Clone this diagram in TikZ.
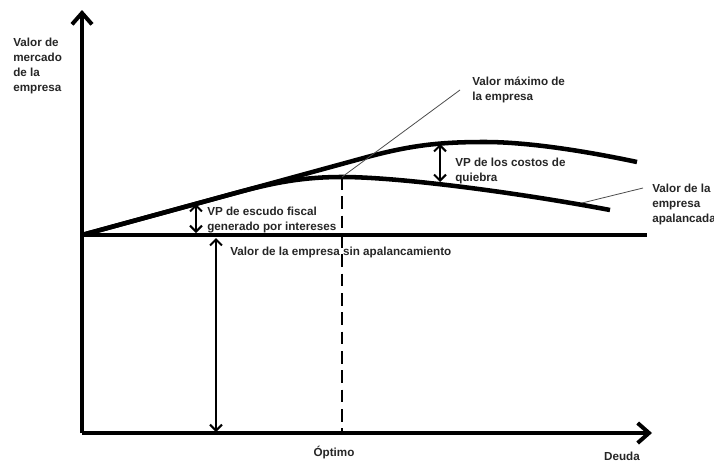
\documentclass[tikz,border=0pt]{standalone}
\usepackage{fontspec}
\setmainfont{Liberation Sans}
\usetikzlibrary{arrows.meta}
\begin{document}
\begin{tikzpicture}[x=0.75pt,y=-0.75pt,
  eje/.style={line width=3pt,-{Straight Barb[length=8.5pt,width=15pt]}},
  curva/.style={line width=3.4pt},
  flecha/.style={line width=1.5pt,{Straight Barb[length=4.5pt,width=9pt]}-{Straight Barb[length=4.5pt,width=9pt]}},
  guia/.style={line width=0.6pt,black!70},
  etiqueta/.style={anchor=north west,inner sep=0pt,align=left,text=black!85,
    font=\fontsize{8.75}{11.25}\selectfont\bfseries}]
  \useasboundingbox (0,0) rectangle (714,464);
  \coordinate (origen) at (82,433);
  \coordinate (ytop) at (82,10);
  \coordinate (xfin) at (652,433);
  \coordinate (base) at (82,235);
  \coordinate (basefin) at (647,235);
  \coordinate (optimo) at (342,177);
  \coordinate (optimobaj) at (342,433);
  % ejes
  \draw[eje] (origen) -- (ytop);
  \draw[eje] (origen) -- (xfin);
  % curvas
  \draw[line width=3pt] (base) -- (basefin);
  \draw[curva] (base) -- (360,159) .. controls (410,145) and (440,142) .. (485,142)
    .. controls (530,142) and (590,152) .. (637,162);
  \draw[curva] (base) -- (230,194.5) .. controls (270,183.5) and (300,177) .. (optimo)
    .. controls (400,177) and (520,193) .. (610,210);
  \draw[line width=2.2pt,dash pattern=on 9.5pt off 5pt] (optimo) -- (optimobaj);
  % flechas
  \coordinate (escA) at (196,204);
  \coordinate (escB) at (196,233);
  \coordinate (quiA) at (440,144);
  \coordinate (quiB) at (440,182);
  \coordinate (sinA) at (216,238);
  \coordinate (sinB) at (216,432);
  \draw[flecha] (escA) -- (escB);
  \draw[flecha] (quiA) -- (quiB);
  \draw[flecha] (sinA) -- (sinB);
  % guias
  \coordinate (maxlab) at (460,90);
  \coordinate (apapt) at (582,203);
  \coordinate (apalab) at (643,188);
  \draw[guia] (optimo) -- (maxlab);
  \draw[guia] (apapt) -- (apalab);
  % textos
  \node[etiqueta] (ylab) at (13,38) {Valor de\\mercado\\de la\\empresa};
  \node[etiqueta] (maxtxt) at (472,77) {Valor máximo de\\la empresa};
  \node[etiqueta] (quitxt) at (455,158) {VP de los costos de\\quiebra};
  \node[etiqueta] (apatxt) at (652,184) {Valor de la\\empresa\\apalancada};
  \node[etiqueta] (esctxt) at (207,207) {VP de escudo fiscal\\generado por intereses};
  \node[etiqueta] (sintxt) at (230,247) {Valor de la empresa sin apalancamiento};
  \node[etiqueta,anchor=base] (optxt) at (334,456) {Óptimo};
  \node[etiqueta,anchor=base] (deuda) at (622,460) {Deuda};
\end{tikzpicture}
\end{document}
